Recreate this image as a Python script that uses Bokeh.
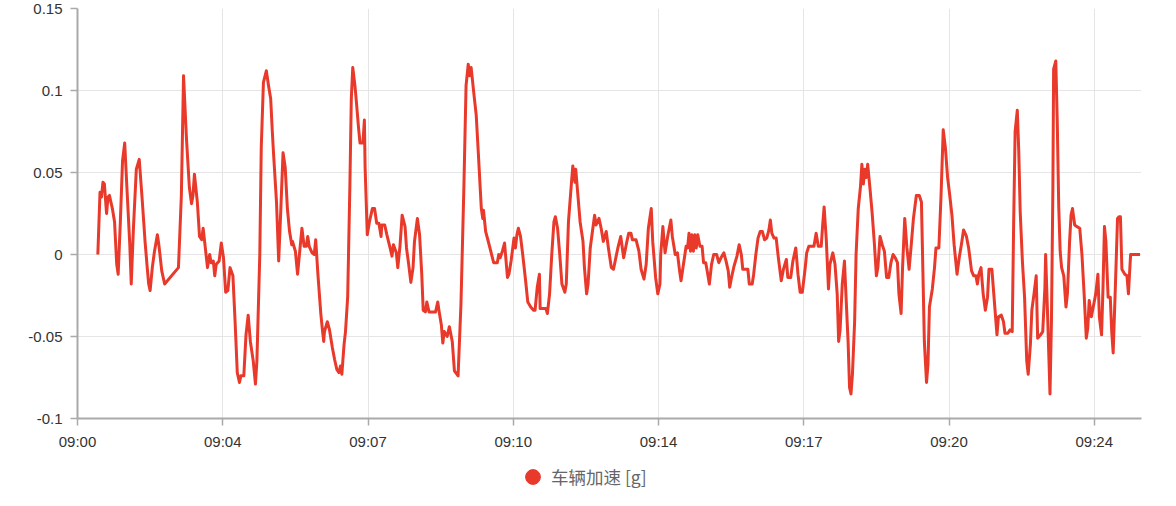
from bokeh.plotting import figure
from bokeh.layouts import column
from bokeh.models import FixedTicker, NumeralTickFormatter, Legend, LegendItem
from bokeh.embed import file_html
from bokeh.resources import INLINE

# time in seconds after 09:00:00
t_sec = [
    73, 76, 78, 80, 82, 85, 87, 89, 93, 96,
    99, 101, 104, 107, 110, 113, 117, 119, 122, 126,
    130, 134, 138, 141, 143, 145, 148, 151, 155, 157,
    161, 165, 184, 188, 191, 195, 199, 202, 204, 206,
    210, 213, 216, 218, 221, 224, 227, 229, 232, 234,
    236, 240, 243, 246, 249, 252, 255, 259, 262, 265,
    268, 270, 274, 277, 280, 283, 287, 290, 292, 296,
    298, 301, 305, 308, 311, 313, 315, 319, 322, 325,
    328, 331, 334, 337, 340, 341, 345, 348, 351, 354,
    357, 360, 362, 364, 368, 371, 373, 376, 380, 382,
    384, 385, 389, 392, 396, 399, 402, 405, 407, 409,
    412, 414, 417, 420, 422, 424, 427, 429, 432, 434,
    438, 440, 441, 444, 447, 451, 454, 457, 460, 463,
    464, 468, 471, 476, 478, 480, 484, 486, 489, 492,
    496, 498, 501, 504, 507, 509, 513, 516, 519, 521,
    524, 526, 529, 533, 538, 541, 543, 546, 548, 550,
    554, 557, 561, 564, 569, 573, 577, 580, 583, 585,
    587, 591, 594, 597, 601, 603, 604, 607, 610, 614,
    618, 623, 625, 627, 630, 633, 637, 639, 642, 646,
    648, 650, 652, 655, 658, 662, 665, 669, 673, 675,
    678, 681, 682, 686, 690, 692, 695, 698, 701, 703,
    706, 709, 712, 716, 718, 721, 725, 727, 730, 731,
    734, 737, 741, 743, 746, 748, 751, 754, 757, 759,
    763, 766, 769, 773, 776, 780, 783, 789, 793, 797,
    801, 804, 807, 809, 814, 818, 821, 825, 828, 831,
    835, 837, 841, 844, 847, 848, 851, 854, 858, 862,
    864, 868, 871, 874, 876, 880, 883, 885, 887, 889,
    891, 893, 895, 897, 899, 902, 905, 907, 910, 912,
    915, 918, 921, 925, 928, 931, 935, 938, 941, 943,
    946, 949, 953, 956, 959, 961, 965, 968, 970, 974,
    976, 979, 982, 985, 988, 991, 994, 997, 999, 1001,
    1004, 1007, 1010, 1014, 1017, 1021, 1023, 1027, 1030, 1034,
    1037, 1040, 1043, 1047, 1049, 1052, 1056, 1059, 1062, 1065,
    1069, 1071, 1073, 1076, 1079, 1081, 1085, 1088, 1091, 1093,
    1095, 1098, 1101, 1103, 1106, 1108, 1110, 1112, 1115, 1117,
    1120, 1123, 1125, 1127, 1129, 1131, 1133, 1136, 1139, 1142,
    1145, 1147, 1150, 1153, 1156, 1159, 1162, 1165, 1168, 1171,
    1174, 1176, 1179, 1181, 1184, 1187, 1190, 1193, 1196, 1200,
    1204, 1207, 1209, 1211, 1214, 1216, 1218, 1222, 1225, 1227,
    1231, 1234, 1237, 1240, 1243, 1246, 1249, 1252, 1256, 1259,
    1262, 1265, 1269, 1272, 1276, 1279, 1282, 1284, 1286, 1289,
    1292, 1295, 1298, 1300, 1304, 1308, 1311, 1313, 1317, 1320,
    1322, 1326, 1329, 1332, 1334, 1336, 1339, 1341, 1343, 1346,
    1349, 1352, 1354, 1357, 1359, 1362, 1365, 1367, 1371, 1374,
    1377, 1378, 1381, 1384, 1386, 1388, 1389, 1392, 1394, 1396,
    1398, 1400, 1403, 1406, 1408, 1411, 1413, 1415, 1418, 1421,
    1425, 1428, 1431, 1434, 1436, 1438, 1441, 1444, 1447, 1450,
    1452, 1455, 1457, 1459, 1461, 1464, 1467, 1469, 1471, 1474,
    1477, 1479, 1481, 1483, 1487, 1490, 1492, 1495, 1499, 1504,
    1508,
]

# vehicle acceleration [g]
accel_g = [
    0.000, 0.038, 0.035, 0.044, 0.043, 0.025, 0.035, 0.036, 0.028, 0.020,
    -0.006, -0.012, 0.020, 0.057, 0.068, 0.041, 0.006, -0.018, 0.016, 0.052,
    0.058, 0.034, 0.008, -0.008, -0.018, -0.022, -0.008, 0.002, 0.012, 0.006,
    -0.010, -0.018, -0.008, 0.036, 0.109, 0.071, 0.041, 0.031, 0.036, 0.049,
    0.032, 0.011, 0.009, 0.016, 0.004, -0.008, 0.000, -0.005, -0.004, -0.013,
    -0.006, -0.004, 0.007, -0.002, -0.023, -0.022, -0.008, -0.013, -0.041, -0.072,
    -0.078, -0.074, -0.074, -0.049, -0.037, -0.053, -0.065, -0.079, -0.065, 0.000,
    0.065, 0.105, 0.112, 0.103, 0.095, 0.077, 0.061, 0.032, -0.004, 0.028,
    0.062, 0.053, 0.028, 0.014, 0.006, 0.008, 0.002, -0.012, 0.002, 0.016,
    0.005, 0.005, 0.011, 0.005, 0.001, 0.000, 0.009, -0.012, -0.036, -0.045,
    -0.053, -0.047, -0.041, -0.046, -0.057, -0.064, -0.070, -0.072, -0.068, -0.073,
    -0.055, -0.047, -0.026, 0.041, 0.095, 0.114, 0.103, 0.093, 0.077, 0.068,
    0.068, 0.082, 0.053, 0.012, 0.020, 0.028, 0.028, 0.019, 0.019, 0.011,
    0.018, 0.018, 0.012, 0.003, -0.001, 0.006, 0.001, -0.008, 0.005, 0.024,
    0.017, 0.004, -0.006, -0.017, -0.008, 0.008, 0.022, 0.012, -0.012, -0.034,
    -0.035, -0.029, -0.035, -0.035, -0.035, -0.029, -0.035, -0.043, -0.054, -0.047,
    -0.050, -0.044, -0.053, -0.071, -0.074, -0.030, 0.041, 0.103, 0.116, 0.109,
    0.114, 0.097, 0.085, 0.061, 0.028, 0.022, 0.027, 0.014, 0.009, 0.002,
    -0.005, -0.005, 0.000, -0.002, 0.002, 0.007, -0.014, -0.012, -0.004, 0.010,
    0.004, 0.012, 0.016, 0.011, 0.000, -0.016, -0.029, -0.032, -0.034, -0.034,
    -0.020, -0.012, -0.033, -0.033, -0.033, -0.036, -0.024, 0.000, 0.020, 0.023,
    0.016, 0.000, -0.018, -0.023, -0.018, 0.020, 0.043, 0.054, 0.044, 0.052,
    0.036, 0.020, 0.008, -0.008, -0.024, -0.018, 0.004, 0.014, 0.024, 0.018,
    0.022, 0.016, 0.008, 0.014, 0.004, -0.008, -0.009, 0.004, 0.011, -0.002,
    0.007, 0.013, 0.013, 0.009, 0.009, 0.002, -0.009, -0.015, -0.006, 0.016,
    0.028, 0.008, -0.014, -0.024, -0.018, 0.000, 0.017, 0.001, 0.012, 0.021,
    0.011, 0.000, 0.001, -0.010, -0.016, -0.004, 0.005, 0.004, 0.013, 0.002,
    0.012, 0.002, 0.012, 0.004, 0.012, 0.005, 0.005, -0.005, -0.005, -0.010,
    -0.018, -0.006, 0.000, 0.000, -0.005, -0.002, 0.001, -0.004, -0.010, -0.020,
    -0.013, -0.007, -0.001, 0.006, 0.000, -0.009, -0.009, -0.009, -0.018, -0.018,
    -0.012, 0.000, 0.010, 0.014, 0.014, 0.009, 0.010, 0.015, 0.021, 0.013,
    0.010, 0.010, -0.002, -0.016, -0.009, -0.003, -0.014, -0.014, -0.004, 0.004,
    -0.012, -0.023, -0.023, -0.008, 0.001, 0.005, 0.005, 0.005, 0.013, 0.005,
    0.005, 0.018, 0.029, 0.009, -0.021, -0.006, 0.001, -0.006, -0.024, -0.053,
    -0.046, -0.018, -0.004, -0.024, -0.053, -0.081, -0.085, -0.073, -0.041, 0.000,
    0.028, 0.041, 0.055, 0.043, 0.052, 0.047, 0.055, 0.041, 0.026, 0.008,
    -0.013, -0.008, 0.011, 0.006, 0.002, -0.014, -0.014, -0.005, 0.000, -0.002,
    -0.005, -0.024, -0.036, -0.008, 0.022, 0.004, -0.009, 0.006, 0.022, 0.036,
    0.036, 0.032, -0.010, -0.053, -0.078, -0.067, -0.032, -0.021, -0.008, 0.004,
    0.004, 0.036, 0.076, 0.065, 0.047, 0.036, 0.024, 0.006, -0.012, -0.002,
    0.006, 0.015, 0.011, 0.004, -0.010, -0.013, -0.013, -0.018, -0.012, -0.008,
    -0.024, -0.034, -0.026, -0.009, -0.009, -0.032, -0.049, -0.038, -0.037, -0.041,
    -0.048, -0.048, -0.046, -0.047, 0.020, 0.075, 0.088, 0.063, 0.026, -0.004,
    -0.026, -0.065, -0.073, -0.055, -0.034, -0.024, -0.013, -0.051, -0.049, -0.047,
    -0.020, 0.000, -0.041, -0.085, -0.041, 0.041, 0.113, 0.118, 0.081, 0.030,
    0.002, -0.008, -0.013, -0.032, -0.024, 0.008, 0.024, 0.028, 0.018, 0.017,
    0.016, 0.000, -0.024, -0.051, -0.045, -0.028, -0.038, -0.031, -0.024, -0.012,
    -0.038, -0.049, -0.020, 0.017, 0.008, -0.026, -0.026, -0.047, -0.060, -0.020,
    0.022, 0.023, 0.023, -0.009, -0.012, -0.013, -0.024, 0.000, 0.000, 0.000,
    0.000,
]
assert len(t_sec) == len(accel_g)

x_tick_sec = [45, 245, 445, 645, 845, 1045, 1245, 1445]
x_tick_labels = ["09:00", "09:04", "09:07", "09:10", "09:14", "09:17", "09:20", "09:24"]
y_ticks = [-0.1, -0.05, 0, 0.05, 0.1, 0.15]
series_name = "车辆加速 [g]"

RED = "#e8392b"
AXIS = "#aaaaaa"
GRID = "#e5e5e5"

p = figure(width=1160, height=452, output_backend="svg", toolbar_location=None,
           x_range=(45, 1510), y_range=(-0.1, 0.15),
           min_border_left=77, min_border_right=19, min_border_top=8,
           min_border_bottom=32)
p.outline_line_color = None
p.background_fill_color = "white"
p.border_fill_color = "white"

p.line(t_sec, accel_g, line_color=RED, line_width=3, line_join="round")

xt = FixedTicker(ticks=x_tick_sec)
yt = FixedTicker(ticks=y_ticks)
p.xaxis.ticker = xt
p.yaxis.ticker = yt
p.xgrid.ticker = xt
p.ygrid.ticker = yt
p.xaxis.major_label_overrides = {t: l for t, l in zip(x_tick_sec, x_tick_labels)}
p.yaxis.formatter = NumeralTickFormatter(format="0.[00]")

for ax in (p.xaxis, p.yaxis):
    ax.axis_line_color = AXIS
    ax.axis_line_width = 2
    ax.major_tick_line_color = AXIS
    ax.major_tick_line_width = 1.5
    ax.major_tick_out = 7
    ax.major_tick_in = 0
    ax.minor_tick_out = 0
    ax.minor_tick_in = 0
    ax.major_label_text_font = "Liberation Sans"
    ax.major_label_text_font_size = "15px"
    ax.major_label_text_color = "#333333"
p.xaxis.major_label_standoff = 7
p.yaxis.major_label_standoff = 8

p.xgrid.grid_line_color = GRID
p.ygrid.grid_line_color = GRID
p.xgrid.grid_line_width = 1
p.ygrid.grid_line_width = 1

# legend strip below the chart
lg = figure(width=1160, height=46, output_backend="svg", toolbar_location=None,
            x_axis_type=None, y_axis_type=None, x_range=(0, 1), y_range=(0, 1),
            min_border=0)
lg.outline_line_color = None
lg.xgrid.visible = False
lg.ygrid.visible = False
marker = lg.scatter(x=[float("nan")], y=[float("nan")], size=15,
                    fill_color=RED, line_color=RED)
legend = Legend(items=[LegendItem(label=series_name, renderers=[marker])],
                location=(437, 3), orientation="horizontal",
                glyph_width=37, glyph_height=37, padding=0, margin=0,
                border_line_color=None, background_fill_alpha=0,
                label_text_font="Noto Sans CJK SC", label_text_font_size="17.5px",
                label_text_color="#666666", label_standoff=0, spacing=0,
                label_text_baseline="middle")
lg.add_layout(legend, "center")

layout = column(p, lg, spacing=0)
open("out.html", "w").write(file_html(layout, INLINE))
